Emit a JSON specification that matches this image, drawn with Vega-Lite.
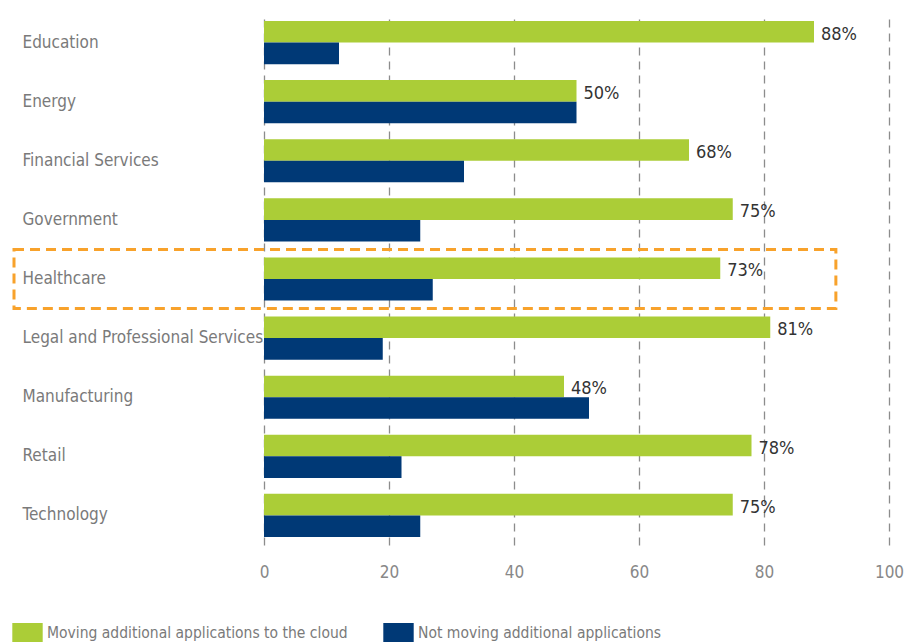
{
  "$schema": "https://vega.github.io/schema/vega-lite/v6.json",
  "width": 625,
  "height": 532,
  "autosize": {"type": "none"},
  "padding": {"left": 264, "top": 13, "right": 21, "bottom": 98},
  "background": "white",
  "config": {
    "font": "DejaVu Sans Condensed, Roboto",
    "view": {"stroke": null}
  },
  "datasets": {
    "main": [
      {"category": "Education", "series": "Moving additional applications to the cloud", "value": 88},
      {"category": "Education", "series": "Not moving additional applications", "value": 12},
      {"category": "Energy", "series": "Moving additional applications to the cloud", "value": 50},
      {"category": "Energy", "series": "Not moving additional applications", "value": 50},
      {"category": "Financial Services", "series": "Moving additional applications to the cloud", "value": 68},
      {"category": "Financial Services", "series": "Not moving additional applications", "value": 32},
      {"category": "Government", "series": "Moving additional applications to the cloud", "value": 75},
      {"category": "Government", "series": "Not moving additional applications", "value": 25},
      {"category": "Healthcare", "series": "Moving additional applications to the cloud", "value": 73},
      {"category": "Healthcare", "series": "Not moving additional applications", "value": 27},
      {"category": "Legal and Professional Services", "series": "Moving additional applications to the cloud", "value": 81},
      {"category": "Legal and Professional Services", "series": "Not moving additional applications", "value": 19},
      {"category": "Manufacturing", "series": "Moving additional applications to the cloud", "value": 48},
      {"category": "Manufacturing", "series": "Not moving additional applications", "value": 52},
      {"category": "Retail", "series": "Moving additional applications to the cloud", "value": 78},
      {"category": "Retail", "series": "Not moving additional applications", "value": 22},
      {"category": "Technology", "series": "Moving additional applications to the cloud", "value": 75},
      {"category": "Technology", "series": "Not moving additional applications", "value": 25}
    ],
    "highlight": [
      {"category": "Healthcare", "x0": -40, "x1": 91.5}
    ]
  },
  "encoding": {
    "y": {
      "field": "category",
      "type": "nominal",
      "scale": {
        "domain": ["Education", "Energy", "Financial Services", "Government", "Healthcare", "Legal and Professional Services", "Manufacturing", "Retail", "Technology"],
        "paddingInner": 0,
        "paddingOuter": 0
      },
      "axis": {
        "title": null,
        "domain": false,
        "ticks": false,
        "labelAlign": "left",
        "labelPadding": 242,
        "labelFontSize": 17,
        "labelColor": "#7a7a7a",
        "labelLimit": 300
      }
    }
  },
  "layer": [
    {
      "data": {"name": "main"},
      "mark": {"type": "bar"},
      "encoding": {
        "x": {
          "field": "value",
          "type": "quantitative",
          "scale": {"domain": [0, 100], "nice": false},
          "axis": {
            "title": null,
            "domain": false,
            "ticks": false,
            "values": [0, 20, 40, 60, 80, 100],
            "labelFlush": false,
            "labelFontSize": 17,
            "labelColor": "#888888",
            "labelPadding": 19,
            "grid": true,
            "gridColor": "#8c8c8c",
            "gridDash": [8, 6],
            "gridWidth": 1.3
          }
        },
        "yOffset": {
          "field": "series",
          "type": "nominal",
          "scale": {"paddingInner": 0, "paddingOuter": 0.37}
        },
        "color": {
          "field": "series",
          "type": "nominal",
          "scale": {
            "domain": ["Moving additional applications to the cloud", "Not moving additional applications"],
            "range": ["#abcd37", "#003976"]
          },
          "legend": {
            "title": null,
            "orient": "none",
            "direction": "horizontal",
            "legendX": -246,
            "legendY": 610,
            "symbolType": "M-1.6,-1H1.6V1H-1.6Z",
            "symbolSize": 361,
            "symbolStrokeWidth": 0,
            "symbolOpacity": 1,
            "labelFontSize": 15.5,
            "labelColor": "#7a7a7a",
            "labelOffset": 10,
            "labelLimit": 400,
            "columnPadding": 35
          }
        }
      }
    },
    {
      "data": {"name": "main"},
      "transform": [
        {"filter": "datum.series === 'Moving additional applications to the cloud'"},
        {"calculate": "datum.value + '%'", "as": "label"}
      ],
      "mark": {"type": "text", "align": "left", "baseline": "middle", "dx": 7, "dy": 3, "fontSize": 18, "color": "#333333"},
      "encoding": {
        "x": {"field": "value", "type": "quantitative"},
        "yOffset": {"field": "series", "type": "nominal"},
        "text": {"field": "label", "type": "nominal"}
      }
    },
    {
      "data": {"name": "highlight"},
      "mark": {"type": "rect", "fill": null, "stroke": "#f8a22b", "strokeWidth": 3, "strokeDash": [10, 6], "clip": false},
      "encoding": {
        "x": {"field": "x0", "type": "quantitative"},
        "x2": {"field": "x1"}
      }
    }
  ]
}
